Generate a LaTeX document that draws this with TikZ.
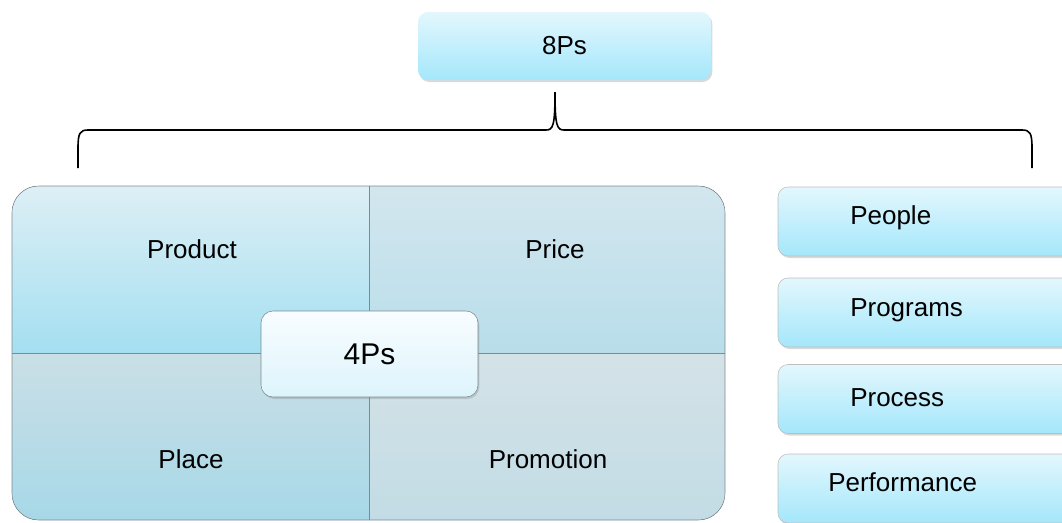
\documentclass[tikz,border=0pt]{standalone}
\usepackage{fontspec}
\setmainfont{Liberation Sans}
\usetikzlibrary{shadows, positioning}
\definecolor{boxtop}{HTML}{E3F7FD}
\definecolor{boxbot}{HTML}{A4E7FB}
\definecolor{boxedge}{HTML}{BDBDBD}
\definecolor{fourtop}{HTML}{F8FDFF}
\definecolor{fourbot}{HTML}{DDF4FC}
\definecolor{gridedge}{HTML}{7D8A90}
\definecolor{qatop}{HTML}{DDEFF5}
\definecolor{qabot}{HTML}{A4DFF1}
\definecolor{qbtop}{HTML}{D3E6EE}
\definecolor{qbbot}{HTML}{B8DEEA}
\definecolor{qctop}{HTML}{CADFE6}
\definecolor{qcbot}{HTML}{A7D8E8}
\definecolor{qdtop}{HTML}{D4E2E7}
\definecolor{qdbot}{HTML}{C2DCE5}

\begin{document}
\begin{tikzpicture}[x=0.75pt, y=-0.75pt,
  pbox/.style={rectangle, rounded corners=7.5pt, top color=boxtop, bottom color=boxbot,
               draw=boxedge, inner sep=0pt, minimum width=226.5pt, minimum height=51.75pt,
               drop shadow={opacity=0.3, shadow xshift=1pt, shadow yshift=-1.5pt}},
  lbl/.style={font=\fontsize{19.5}{23}\selectfont, inner sep=0pt},
  brace/.style={line width=1.2pt, black}]
  \useasboundingbox (0,0) rectangle (1062,522);

  % top box and brace
  \node[pbox, draw=none, minimum width=219.75pt, minimum height=51pt, lbl] (eight) at (564.5,46) {8Ps};
  \draw[brace] (78,168) -- (78,148) .. controls (78,133) and (80,130) .. (88,130)
    -- (546,130) .. controls (553,130) and (555,126) .. (555,92)
    .. controls (555,126) and (557,130) .. (564,130)
    -- (1022,130) .. controls (1030,130) and (1032,133) .. (1032,148) -- (1032,168);

  % the 4Ps grid
  \begin{scope}
    \clip[rounded corners=20pt] (12,186) rectangle (725,520);
    \fill[top color=qatop, bottom color=qabot] (12,186) rectangle (369,353);
    \fill[top color=qbtop, bottom color=qbbot] (369,186) rectangle (725,353);
    \fill[top color=qctop, bottom color=qcbot] (12,353) rectangle (369,520);
    \fill[top color=qdtop, bottom color=qdbot] (369,353) rectangle (725,520);
  \end{scope}
  \draw[gridedge, rounded corners=20pt] (12,186) rectangle (725,520);
  \draw[gridedge] (369,186) -- (369,520);
  \draw[gridedge] (12,353) -- (725,353);
  \node[lbl] (product) at (192,249) {Product};
  \node[lbl] (price) at (555,249) {Price};
  \node[lbl] (place) at (191,459) {Place};
  \node[lbl] (promotion) at (548,459) {Promotion};
  \node[pbox, rounded corners=9pt, top color=fourtop, bottom color=fourbot, draw=gridedge,
        minimum width=162.75pt, minimum height=64.5pt,
        font=\fontsize{22.5}{27}\selectfont] (four) at (369.5,354) {4Ps};

  % the other four Ps
  \node[pbox] (people) at (929,221.5) {};
  \node[pbox] (programs) at (929,312.5) {};
  \node[pbox] (process) at (929,399) {};
  \node[pbox] (performance) at (929,488.5) {};
  \node[lbl, anchor=west] (peoplet) at (850,218) {People};
  \node[lbl, anchor=west] (programst) at (850,310) {Programs};
  \node[lbl, anchor=west] (processt) at (850,398) {Process};
  \node[lbl, anchor=west] (performancet) at (828,482) {Performance};
\end{tikzpicture}
\end{document}
